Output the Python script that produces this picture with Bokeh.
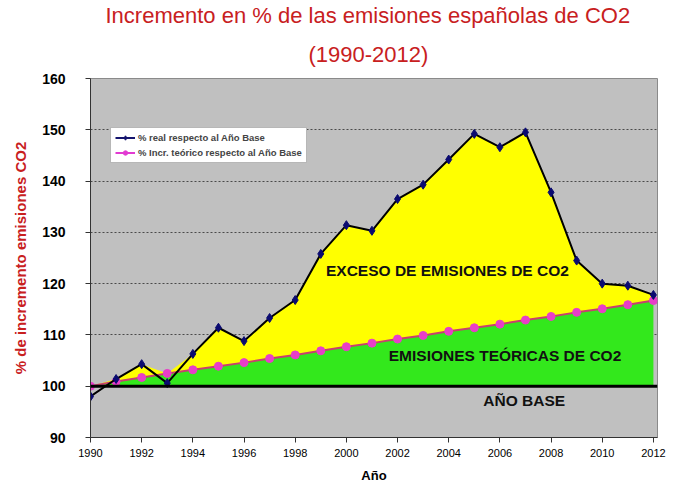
import numpy as np
from bokeh.plotting import figure
from bokeh.models import (ColumnDataSource, Range1d, Span, Label, Legend, LegendItem,
                          Title, FixedTicker)
from bokeh.embed import file_html
from bokeh.resources import INLINE

# Spanish CO2 emissions, % relative to the base year (1990 = 100)
years = list(range(1990, 2013))
real_pct = [98.0, 101.4, 104.3, 100.6, 106.3, 111.4, 108.8, 113.3, 116.8, 125.8,
            131.4, 130.3, 136.5, 139.3, 144.2, 149.2, 146.6, 149.5, 137.8, 124.5,
            120.0, 119.6, 117.8]
theory_pct = [100.0, 100.9, 101.7, 102.5, 103.2, 103.9, 104.6, 105.4, 106.1, 106.9,
              107.7, 108.4, 109.2, 109.9, 110.7, 111.4, 112.1, 112.9, 113.6, 114.4,
              115.1, 115.9, 116.7]
base_level = 100
y_ticks = [90, 100, 110, 120, 130, 140, 150, 160]
x_ticks = list(range(1990, 2013, 2))

FONT = "Liberation Sans"
TITLE_RED = "#c8201e"

src = ColumnDataSource(dict(
    year=years,
    real=real_pct,
    theory=theory_pct,
    base=[base_level] * len(years),
    upper=list(np.maximum(real_pct, theory_pct)),
))

p = figure(width=696, height=493, output_backend="svg", toolbar_location=None,
           x_range=Range1d(1990, 2012.16), y_range=Range1d(90, 160),
           min_border_left=90, min_border_right=39, min_border_top=78, min_border_bottom=56,
           background_fill_color="#c0c0c0", border_fill_color="white")
p.outline_line_color = "#8a8a8a"

# Two-line title: p.title sits on top, the added Title is nearest the plot
p.title.text = "Incremento en % de las emisiones españolas de CO2"
p.title.text_font = FONT
p.title.text_font_size = "22px"
p.title.text_font_style = "normal"
p.title.text_color = TITLE_RED
p.title.align = "left"
p.title.offset = 15
p.title.standoff = 0
p.add_layout(Title(text="(1990-2012)", align="left",
                   text_font=FONT, text_font_size="22px", text_font_style="normal",
                   text_color=TITLE_RED, offset=218, standoff=24), "above")

# Filled regions: excess above the theoretical path, and the theoretical band
p.varea(x="year", y1="theory", y2="upper", source=src, fill_color="#ffff00")
p.varea(x="year", y1="base", y2="theory", source=src, fill_color="#33e81c")

p.add_layout(Span(location=base_level, dimension="width", line_color="black", line_width=3))

# Series lines and markers
p.line(x="year", y="theory", source=src, line_color="#c8406e", line_width=2)
p.scatter(x="year", y="theory", source=src, marker="circle", size=8,
          fill_color="#e83ec8", line_color="#e83ec8")
p.line(x="year", y="real", source=src, line_color="black", line_width=2)
p.scatter(x="year", y="real", source=src, marker="diamond", size=9,
          fill_color="#0a0a70", line_color="#0a0a70")

# Legend swatches (not plotted: NaN points)
swatch = ColumnDataSource(dict(x=[np.nan], y=[np.nan]))
lg1 = p.line(x="x", y="y", source=swatch, line_color="#14146e", line_width=2)
mk1 = p.scatter(x="x", y="y", source=swatch, marker="diamond", size=8,
                fill_color="#14146e", line_color="#14146e")
lg2 = p.line(x="x", y="y", source=swatch, line_color="#e23ad2", line_width=2)
mk2 = p.scatter(x="x", y="y", source=swatch, marker="circle", size=6,
                fill_color="#e23ad2", line_color="#e23ad2")
legend = Legend(items=[
    LegendItem(label="% real respecto al Año Base", renderers=[lg1, mk1]),
    LegendItem(label="% Incr. teórico respecto al Año Base", renderers=[lg2, mk2]),
], location=(20, 274))
legend.label_text_font = FONT
legend.label_text_font_size = "9.5px"
legend.label_text_font_style = "bold"
legend.label_height = 11
legend.glyph_height = 11
legend.glyph_width = 20
legend.spacing = 4
legend.padding = 4
legend.margin = 0
legend.label_standoff = 3
legend.border_line_color = "#707070"
legend.background_fill_color = "white"
legend.background_fill_alpha = 1
p.add_layout(legend, "center")

# Region annotations
for txt, x, y in [("EXCESO DE EMISIONES DE CO2", 2003.95, 122.6),
                  ("EMISIONES TEÓRICAS DE CO2", 2006.2, 106.0),
                  ("AÑO BASE", 2006.95, 97.2)]:
    p.add_layout(Label(x=x, y=y, text=txt, text_align="center", text_baseline="middle",
                       text_font=FONT, text_font_size="15.5px", text_font_style="bold",
                       text_color="#111111"))

# Axes
p.xaxis.ticker = FixedTicker(ticks=x_ticks)
p.yaxis.ticker = FixedTicker(ticks=y_ticks)
for ax in (p.xaxis[0], p.yaxis[0]):
    ax.axis_line_color = "#333333"
    ax.major_tick_line_color = "#333333"
    ax.major_tick_in = 0
    ax.major_tick_out = 5
    ax.minor_tick_line_color = None
    ax.major_label_text_font = FONT
    ax.major_label_text_color = "black"
    ax.axis_label_text_font = FONT
    ax.axis_label_text_font_style = "bold"

p.xaxis.major_label_text_font_size = "11px"
p.xaxis.major_label_standoff = 6
p.xaxis.axis_label = "Año"
p.xaxis.axis_label_text_font_size = "13px"
p.xaxis.axis_label_text_color = "black"
p.xaxis.axis_label_standoff = 8

p.yaxis.major_label_text_font_size = "14px"
p.yaxis.major_label_text_font_style = "bold"
p.yaxis.major_label_standoff = 20
p.yaxis.axis_label = "% de incremento emisiones CO2"
p.yaxis.axis_label_text_font_size = "15px"
p.yaxis.axis_label_text_color = TITLE_RED
p.yaxis.axis_label_standoff = 10

p.xgrid.grid_line_color = None
p.ygrid.grid_line_color = "#4a4a4a"
p.ygrid.grid_line_dash = "2 2"
p.ygrid.grid_line_width = 1

open("out.html", "w").write(file_html(p, INLINE))
